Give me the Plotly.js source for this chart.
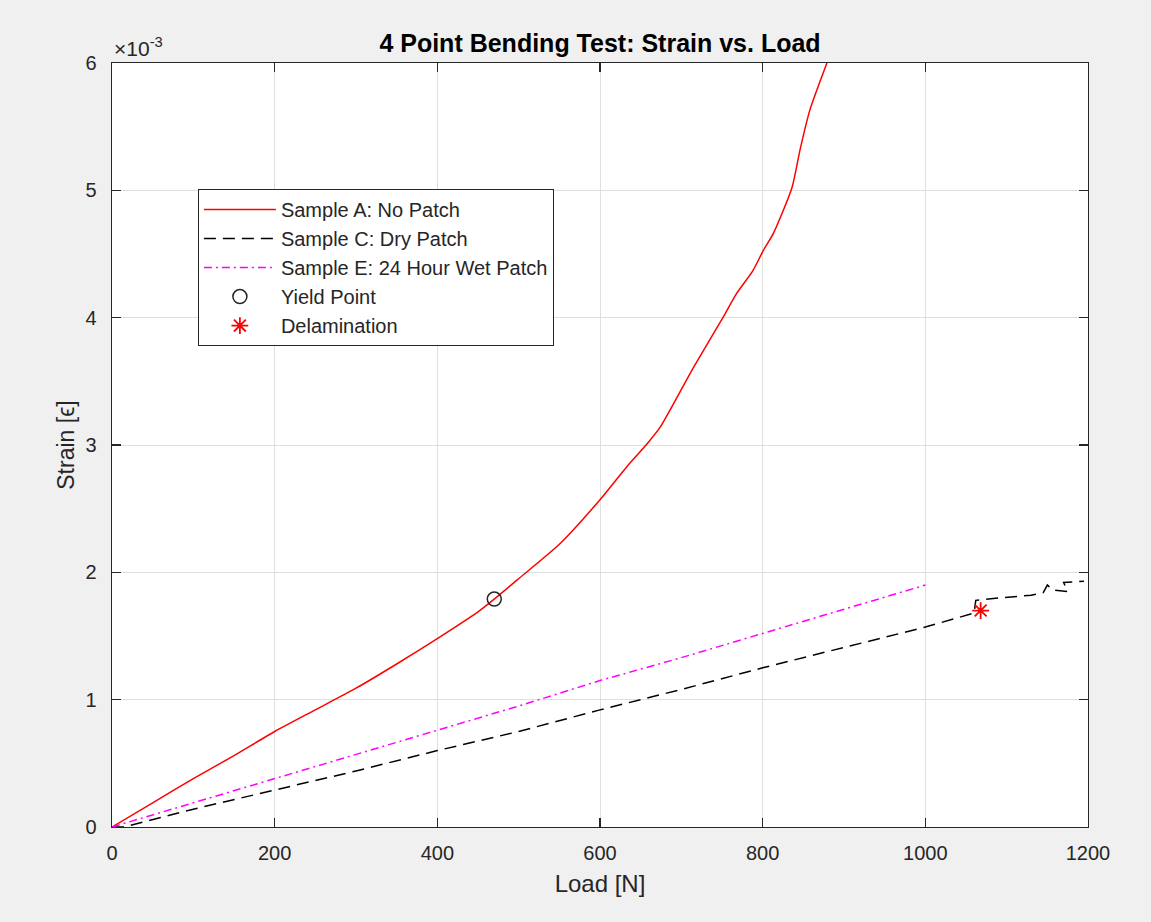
<!DOCTYPE html>
<html>
<head>
<meta charset="utf-8">
<script src="https://cdn.plot.ly/plotly-3.0.1.min.js"></script>
<style>
  html, body { margin: 0; padding: 0; background: #f0f0f0; }
  #chart { width: 1151px; height: 922px; }
</style>
</head>
<body>
<div id="chart"></div>
<script>
// Strain values are in units of 1e-3 (axis multiplier shown as ×10^-3)
const loadA = [0, 50, 100, 150, 200, 250, 300, 350, 400, 450, 470, 500, 550, 600, 633, 658, 674, 715, 752, 768, 788, 801, 813, 836, 846, 858, 879];
const strainA = [0, 0.19, 0.38, 0.56, 0.75, 0.92, 1.09, 1.28, 1.48, 1.69, 1.79, 1.95, 2.22, 2.57, 2.83, 3.01, 3.14, 3.61, 4.01, 4.19, 4.37, 4.53, 4.66, 5.02, 5.32, 5.63, 6.0];

const loadC = [0, 15, 100, 200, 300, 400, 500, 600, 700, 800, 900, 1000, 1060, 1062, 1092, 1130, 1145, 1150, 1157, 1175, 1170, 1195];
const strainC = [0, 0, 0.14, 0.29, 0.44, 0.60, 0.75, 0.92, 1.08, 1.25, 1.41, 1.57, 1.68, 1.78, 1.80, 1.82, 1.84, 1.90, 1.86, 1.85, 1.92, 1.93];

const loadE = [0, 100, 200, 300, 400, 500, 600, 700, 800, 900, 1000];
const strainE = [0, 0.19, 0.38, 0.57, 0.76, 0.95, 1.15, 1.33, 1.52, 1.71, 1.90];

const yieldLoad = [470];
const yieldStrain = [1.79];
const delamLoad = [1068];
const delamStrain = [1.70];

const seriesNames = ["Sample A: No Patch", "Sample C: Dry Patch", "Sample E: 24 Hour Wet Patch", "Yield Point", "Delamination"];
const xTicks = [0, 200, 400, 600, 800, 1000, 1200];
const yTicks = [0, 1, 2, 3, 4, 5, 6];

const fontFam = "Liberation Sans, Arial, Helvetica, sans-serif";
const textCol = "#262626";

const traces = [
  { x: loadA, y: strainA, name: seriesNames[0], mode: "lines", type: "scatter",
    line: { color: "#ff0000", width: 1.5, shape: "spline", smoothing: 0.6 } },
  { x: loadC, y: strainC, name: seriesNames[1], mode: "lines", type: "scatter",
    line: { color: "#000000", width: 1.5, dash: "12px,7px" } },
  { x: loadE, y: strainE, name: seriesNames[2], mode: "lines", type: "scatter",
    line: { color: "#ff00ff", width: 1.5, dash: "8px,4px,2px,4px" } },
  { x: yieldLoad, y: yieldStrain, name: seriesNames[3], mode: "markers", type: "scatter",
    marker: { symbol: "circle-open", size: 14, color: "#262626", line: { color: "#262626", width: 1.5 } } },
  { x: delamLoad, y: delamStrain, name: seriesNames[4], mode: "markers", type: "scatter",
    marker: { symbol: "asterisk-open", size: 14, color: "#ff0000", line: { color: "#ff0000", width: 1.8 } } }
];

const axisCommon = {
  showline: true, linecolor: textCol, linewidth: 1.3, mirror: "ticks",
  ticks: "inside", ticklen: 9, tickcolor: textCol, tickwidth: 1.3,
  showgrid: true, gridcolor: "#dfdfdf", gridwidth: 1,
  zeroline: false, fixedrange: true,
  tickfont: { family: fontFam, size: 20, color: textCol }
};

const layout = {
  width: 1151, height: 922,
  paper_bgcolor: "#f0f0f0", plot_bgcolor: "#ffffff",
  margin: { l: 112, r: 63, t: 63, b: 95 },
  title: { text: "<b>4 Point Bending Test: Strain vs. Load</b>", font: { family: fontFam, size: 25, color: "#000000" },
           x: 0.5, xref: "paper", y: 1, yref: "paper", yanchor: "bottom", pad: { b: 11 } },
  xaxis: Object.assign({}, axisCommon, {
    range: [0, 1200], tickvals: xTicks, ticklabelstandoff: 8,
    title: { text: "Load [N]", font: { family: fontFam, size: 24, color: textCol }, standoff: 12 }
  }),
  yaxis: Object.assign({}, axisCommon, {
    range: [0, 6], tickvals: yTicks, ticklabelstandoff: 10,
    title: { text: "Strain [ϵ]", font: { family: fontFam, size: 23, color: textCol }, standoff: 4 }
  }),
  showlegend: true,
  legend: {
    x: 0.088, y: 0.835, xanchor: "left", yanchor: "top",
    bgcolor: "#ffffff", bordercolor: "#262626", borderwidth: 1,
    font: { family: fontFam, size: 20, color: textCol },
    itemwidth: 72, tracegroupgap: 0
  },
  annotations: [{
    text: "×10<sup>-3</sup>", xref: "paper", yref: "paper", x: 0, y: 1, xanchor: "left", yanchor: "bottom",
    showarrow: false, font: { family: fontFam, size: 21, color: textCol }, yshift: 1
  }]
};

Plotly.newPlot("chart", traces, layout, { displayModeBar: false, staticPlot: true });
</script>
</body>
</html>
